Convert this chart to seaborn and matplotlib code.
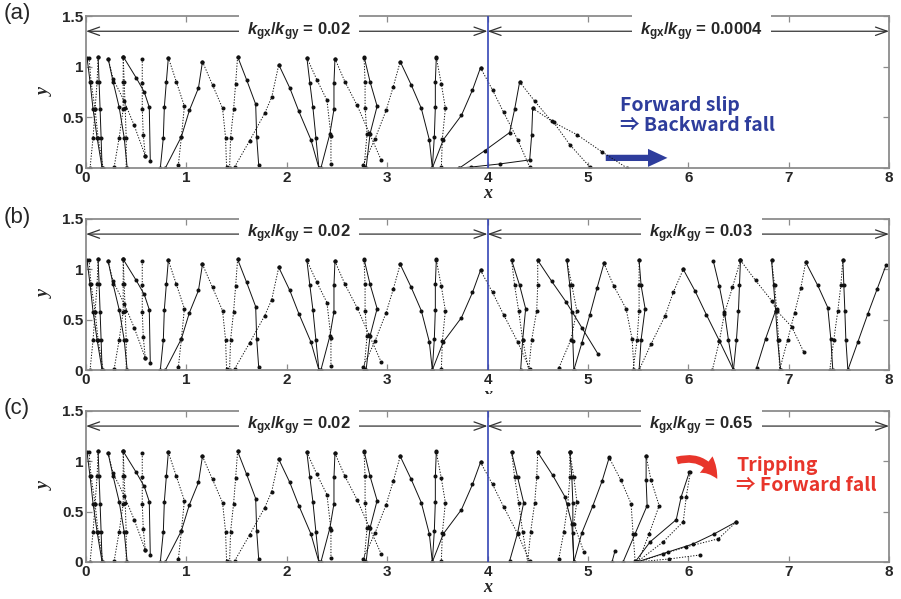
import pandas as pd
import matplotlib
matplotlib.use('Agg')
import matplotlib.pyplot as plt
import seaborn as sns
from matplotlib.patches import FancyArrowPatch, Rectangle

# Leg traces (x, y), one list per stroke.
# Walking part before x = 4 is the same in all three panels
left_style = ['solid', 'dotted', 'solid', 'dotted', 'solid', 'dotted', 'solid', 'dotted',
              'dotted', 'dotted', 'solid', 'dotted', 'solid', 'dotted', 'dotted', 'solid',
              'dotted', 'solid', 'solid', 'dotted', 'solid', 'dotted', 'solid', 'dotted',
              'dotted', 'solid', 'solid', 'dotted', 'solid', 'dotted']
left_x = [[0.01, 0.04, 0.07, 0.11, 0.16], [0.03, 0.05, 0.09, 0.12, 0.17],
          [0.12, 0.13, 0.14, 0.15, 0.16], [0.04, 0.07, 0.09, 0.11, 0.12],
          [0.22, 0.27, 0.33, 0.38, 0.41], [0.22, 0.27, 0.38, 0.48, 0.59],
          [0.37, 0.50, 0.58, 0.63, 0.64], [0.37, 0.38, 0.39, 0.40, 0.40],
          [0.28, 0.33, 0.37, 0.37, 0.37], [0.56, 0.56, 0.56, 0.57, 0.59],
          [0.74, 0.77, 0.78, 0.80, 0.82], [0.82, 0.90, 0.98, 0.95, 0.92],
          [0.79, 0.95, 1.03, 1.12, 1.16], [1.16, 1.26, 1.36, 1.39, 1.40],
          [1.43, 1.44, 1.47, 1.49, 1.51], [1.51, 1.60, 1.69, 1.70, 1.72],
          [1.48, 1.63, 1.78, 1.85, 1.92], [1.92, 2.03, 2.12, 2.24, 2.32],
          [2.20, 2.23, 2.26, 2.29, 2.32], [2.20, 2.30, 2.40, 2.44, 2.44],
          [2.48, 2.47, 2.47, 2.43, 2.34], [2.48, 2.58, 2.70, 2.82, 2.94],
          [2.77, 2.83, 2.90, 2.83, 2.79], [2.77, 2.78, 2.78, 2.80, 2.77],
          [2.76, 2.88, 2.99, 3.06, 3.13], [3.13, 3.24, 3.34, 3.42, 3.45],
          [3.49, 3.48, 3.48, 3.47, 3.45], [3.49, 3.54, 3.58, 3.55, 3.54],
          [3.45, 3.56, 3.74, 3.85, 3.93], [3.93, 4.05, 4.16, 4.30, 4.42]]
left_y = [[1.09, 0.85, 0.58, 0.30, 0.0], [1.09, 0.85, 0.58, 0.30, 0.0],
          [1.10, 0.85, 0.58, 0.30, 0.0], [0.0, 0.30, 0.58, 0.85, 1.10],
          [1.08, 0.85, 0.60, 0.30, 0.0], [1.08, 0.88, 0.66, 0.42, 0.12],
          [1.10, 0.89, 0.75, 0.60, 0.07], [1.10, 0.85, 0.59, 0.30, 0.0],
          [0.01, 0.30, 0.58, 0.85, 1.10], [1.08, 0.84, 0.58, 0.33, 0.12],
          [0.0, 0.30, 0.60, 0.85, 1.09], [1.09, 0.85, 0.61, 0.31, 0.03],
          [0.0, 0.31, 0.57, 0.79, 1.05], [1.05, 0.82, 0.59, 0.30, 0.01],
          [0.0, 0.30, 0.58, 0.83, 1.10], [1.10, 0.87, 0.63, 0.31, 0.03],
          [0.01, 0.27, 0.54, 0.70, 1.02], [1.02, 0.79, 0.56, 0.28, 0.0],
          [1.09, 0.84, 0.60, 0.30, 0.0], [1.09, 0.87, 0.67, 0.32, 0.04],
          [1.08, 0.84, 0.58, 0.34, 0.0], [1.08, 0.85, 0.62, 0.35, 0.08],
          [1.10, 0.85, 0.61, 0.34, 0.0], [1.09, 0.85, 0.59, 0.34, 0.01],
          [0.03, 0.29, 0.57, 0.80, 1.05], [1.05, 0.82, 0.59, 0.28, 0.0],
          [1.10, 0.85, 0.60, 0.31, 0.0], [1.09, 0.83, 0.59, 0.29, 0.01],
          [0.0, 0.28, 0.52, 0.77, 0.99], [0.99, 0.77, 0.55, 0.28, 0.01]]

# (a) forward slip after x = 4
a_style = ['solid', 'dotted', 'solid', 'dotted']
a_x = [[3.72, 3.97, 4.22, 4.27, 4.32], [4.32, 4.47, 4.64, 4.89, 5.14, 5.39],
       [3.72, 3.84, 4.12, 4.42, 4.44, 4.45], [4.45, 4.66, 4.82, 5.02]]
a_y = [[0.0, 0.17, 0.35, 0.58, 0.85], [0.85, 0.66, 0.46, 0.33, 0.16, 0.0],
       [0.0, 0.01, 0.04, 0.08, 0.33, 0.59], [0.59, 0.45, 0.23, 0.01]]

# (b) normal walking continues
b_style = ['solid', 'dotted', 'dotted', 'solid', 'solid', 'dotted', 'solid', 'dotted',
           'solid', 'dotted', 'dotted', 'solid', 'solid', 'dotted', 'solid', 'dotted',
           'solid', 'dotted', 'solid', 'dotted', 'solid', 'solid', 'dotted', 'solid']
b_x = [[4.24, 4.32, 4.38, 4.35, 4.33], [4.24, 4.27, 4.31, 4.35, 4.41],
       [4.41, 4.44, 4.49, 4.50, 4.50], [4.50, 4.64, 4.78, 4.94, 5.10],
       [4.79, 4.82, 4.84, 4.85, 4.86], [4.79, 4.84, 4.89, 4.83, 4.71],
       [4.86, 4.94, 5.02, 5.09, 5.16], [5.16, 5.26, 5.38, 5.44, 5.46],
       [5.51, 5.53, 5.57, 5.53, 5.51], [5.51, 5.51, 5.51, 5.49, 5.45],
       [5.51, 5.63, 5.77, 5.85, 5.95], [5.95, 6.07, 6.18, 6.31, 6.45],
       [6.25, 6.31, 6.36, 6.40, 6.45], [6.24, 6.31, 6.36, 6.44, 6.52],
       [6.52, 6.51, 6.50, 6.48, 6.45], [6.52, 6.67, 6.83, 6.88, 7.03, 7.15],
       [6.83, 6.85, 6.87, 6.89, 6.92], [6.83, 6.86, 6.88, 6.90, 6.91],
       [6.68, 6.77, 6.87], [6.91, 6.99, 7.06, 7.12, 7.17],
       [7.17, 7.29, 7.39, 7.42, 7.44], [7.54, 7.55, 7.56, 7.57, 7.59],
       [7.41, 7.45, 7.49, 7.52, 7.54], [7.59, 7.69, 7.79, 7.88, 7.97]]
b_y = [[1.09, 0.84, 0.61, 0.30, 0.0], [1.09, 0.84, 0.59, 0.30, 0.0],
       [0.0, 0.30, 0.59, 0.84, 1.09], [1.09, 0.88, 0.68, 0.42, 0.16],
       [1.09, 0.84, 0.58, 0.29, 0.0], [1.09, 0.84, 0.59, 0.30, 0.02],
       [0.0, 0.27, 0.55, 0.81, 1.06], [1.06, 0.83, 0.61, 0.31, 0.0],
       [1.09, 0.84, 0.61, 0.30, 0.0], [1.09, 0.84, 0.59, 0.30, 0.0],
       [0.0, 0.26, 0.54, 0.77, 1.00], [1.00, 0.78, 0.55, 0.29, 0.0],
       [1.08, 0.83, 0.58, 0.30, 0.0], [0.0, 0.29, 0.56, 0.82, 1.09],
       [1.09, 0.84, 0.59, 0.30, 0.0], [1.09, 0.89, 0.69, 0.59, 0.43, 0.18],
       [1.09, 0.84, 0.59, 0.30, 0.0], [1.09, 0.84, 0.61, 0.30, 0.0],
       [0.02, 0.31, 0.59], [0.0, 0.30, 0.57, 0.81, 1.07],
       [1.07, 0.84, 0.62, 0.31, 0.0], [1.09, 0.84, 0.59, 0.30, 0.0],
       [0.0, 0.30, 0.59, 0.84, 1.09], [0.0, 0.28, 0.56, 0.80, 1.04]]

# (c) tripping after x = 4
c_style = ['solid', 'dotted', 'dotted', 'solid', 'solid', 'dotted', 'dotted', 'solid',
           'dotted', 'solid', 'dotted', 'solid', 'dotted', 'solid', 'dotted', 'dotted',
           'solid']
c_x = [[4.24, 4.30, 4.36, 4.30, 4.22], [4.24, 4.27, 4.31, 4.35, 4.40],
       [4.40, 4.43, 4.47, 4.49, 4.50], [4.50, 4.65, 4.77, 4.84, 4.86],
       [4.82, 4.84, 4.85, 4.85, 4.86], [4.82, 4.86, 4.89, 4.86, 4.96],
       [4.71, 4.76, 4.80, 4.82, 4.82], [4.86, 4.94, 5.05, 5.14, 5.21],
       [5.21, 5.33, 5.43, 5.45, 5.47], [5.58, 5.58, 5.59, 5.47, 5.35],
       [5.58, 5.63, 5.71, 5.61, 5.50], [5.47, 5.62, 5.88, 5.93, 6.01],
       [5.49, 5.75, 5.95, 5.98, 6.02], [5.49, 5.80, 6.05, 6.26, 6.48],
       [5.50, 5.75, 5.98, 6.30, 6.48], [5.49, 5.81, 6.12], [5.24, 5.27]]
c_y = [[1.09, 0.84, 0.59, 0.29, 0.01], [1.09, 0.84, 0.59, 0.30, 0.0],
       [0.0, 0.30, 0.59, 0.84, 1.09], [1.09, 0.86, 0.65, 0.38, 0.0],
       [1.09, 0.84, 0.59, 0.29, 0.0], [1.09, 0.84, 0.60, 0.38, 0.10],
       [0.03, 0.30, 0.58, 0.84, 1.09], [0.0, 0.29, 0.56, 0.80, 1.03],
       [1.04, 0.81, 0.58, 0.28, 0.01], [1.05, 0.81, 0.56, 0.28, 0.0],
       [1.05, 0.81, 0.56, 0.28, 0.0], [0.0, 0.20, 0.42, 0.65, 0.89],
       [0.0, 0.20, 0.40, 0.65, 0.89], [0.0, 0.10, 0.18, 0.28, 0.40],
       [0.0, 0.08, 0.15, 0.23, 0.40], [0.0, 0.03, 0.07], [0.0, 0.11]]

panel_labels = ['(a)', '(b)', '(c)']
ratio_left = '0.02'
ratio_right = ['0.0004', '0.03', '0.65']


def traces(styles, xs, ys, tag):
    rows = []
    for i, (s, xx, yy) in enumerate(zip(styles, xs, ys)):
        for px, py in zip(xx, yy):
            rows.append({'seg': f'{tag}{i}', 'leg': s, 'x': px, 'y': py})
    return pd.DataFrame(rows)


sns.set_theme(style='ticks')
plt.rcParams['font.family'] = ['Liberation Sans', 'DejaVu Sans']
plt.rcParams['mathtext.fontset'] = 'custom'
plt.rcParams['mathtext.it'] = 'Liberation Sans:italic:bold'
plt.rcParams['mathtext.rm'] = 'Liberation Sans:bold'
plt.rcParams['mathtext.bf'] = 'Liberation Sans:bold'

blue = '#3545B5'
note_blue = '#2E3D9C'
red = '#E8352B'
gray = '#8c8c8c'

fig = plt.figure(figsize=(9.01, 5.99), dpi=100)
boxes = [[0.0955, 0.7195, 0.8912, 0.2537],
         [0.0955, 0.3823, 0.8912, 0.2521],
         [0.0955, 0.0618, 0.8912, 0.2521]]
extra = [(a_style, a_x, a_y), (b_style, b_x, b_y), (c_style, c_x, c_y)]
label_tops = [0.995, 0.655, 0.335]

for k in range(3):
    ax = fig.add_axes(boxes[k])
    df = pd.concat([traces(left_style, left_x, left_y, 'L'),
                    traces(*extra[k], 'R')], ignore_index=True)
    sns.lineplot(data=df, x='x', y='y', units='seg', estimator=None, sort=False,
                 style='leg', style_order=['solid', 'dotted'],
                 dashes={'solid': '', 'dotted': (1.3, 1.6)},
                 markers={'solid': 'o', 'dotted': 'o'},
                 color='#111111', linewidth=0.7, markersize=2.9,
                 markeredgewidth=0, legend=False, ax=ax)

    ax.set_xlim(0, 8)
    ax.set_ylim(0, 1.5)
    ax.set_xticks(range(9))
    ax.set_yticks([0, 0.5, 1, 1.5])
    ax.set_yticklabels(['0', '0.5', '1', '1.5'])
    ax.tick_params(direction='in', length=4, width=0.9, color=gray,
                   top=True, right=True, labelsize=11, pad=2)
    for t in ax.get_xticklabels() + ax.get_yticklabels():
        t.set_fontweight('bold')
    for sp in ax.spines.values():
        sp.set_color(gray)
        sp.set_linewidth(1.3)
    ax.set_xlabel('x', fontfamily='Liberation Serif', style='italic',
                  fontweight='bold', fontsize=13, labelpad=0)
    ax.set_ylabel('y', fontfamily='Liberation Serif', style='italic',
                  fontweight='bold', fontsize=13, labelpad=6)

    ax.axvline(4, color=blue, lw=1.2, zorder=5)

    # range arrows with the stiffness ratio
    arrow = dict(arrowstyle='<->,head_length=0.7,head_width=0.25', lw=0.9,
                 color='#333333', shrinkA=0, shrinkB=0)
    ax.annotate('', xy=(0, 1.35), xytext=(4, 1.35), arrowprops=arrow)
    ax.annotate('', xy=(4, 1.35), xytext=(8, 1.35), arrowprops=arrow)
    box = dict(boxstyle='square,pad=0.5', fc='white', ec='none')
    ax.text(2.12, 1.35, r'$k_{\mathrm{gx}}/k_{\mathrm{gy}}$ = ' + ratio_left,
            ha='center', va='center', fontsize=12, fontweight='bold', bbox=box)
    ax.text(6.13, 1.35, r'$k_{\mathrm{gx}}/k_{\mathrm{gy}}$ = ' + ratio_right[k],
            ha='center', va='center', fontsize=12, fontweight='bold', bbox=box)

    fig.text(0.004, label_tops[k], panel_labels[k], ha='left', va='top', fontsize=16)

    if k == 0:
        ax.text(5.32, 0.71, 'Forward slip\n\u21d2 Backward fall', ha='left', va='top',
                fontsize=14, fontweight='bold', color=note_blue, linespacing=1.05,
                family=['Noto Sans CJK KR', 'DejaVu Sans'])
        ax.add_patch(FancyArrowPatch((5.15, 0.1), (5.82, 0.1),
                                     arrowstyle='simple,head_width=1.3,head_length=1.4,tail_width=0.45',
                                     mutation_scale=10, color=note_blue, lw=0))
    if k == 2:
        ax.text(6.48, 1.05, 'Tripping\n\u21d2 Forward fall', ha='left', va='top',
                fontsize=14, fontweight='bold', color=red, linespacing=1.05,
                family=['Noto Sans CJK KR', 'DejaVu Sans'])
        ax.add_patch(FancyArrowPatch((5.86, 1.0), (6.3, 0.8),
                                     connectionstyle='arc3,rad=-0.45',
                                     arrowstyle='simple,head_width=1.5,head_length=1.3,tail_width=0.55',
                                     mutation_scale=10, color=red, lw=0))

# the x label of panel (b) is partly hidden by panel (c)
fig.add_artist(Rectangle((0.45, 1 - 410 / 599), 0.2, 16 / 599, transform=fig.transFigure,
                         fc='white', ec='none', zorder=10))

fig.savefig('out.png', dpi=100)
